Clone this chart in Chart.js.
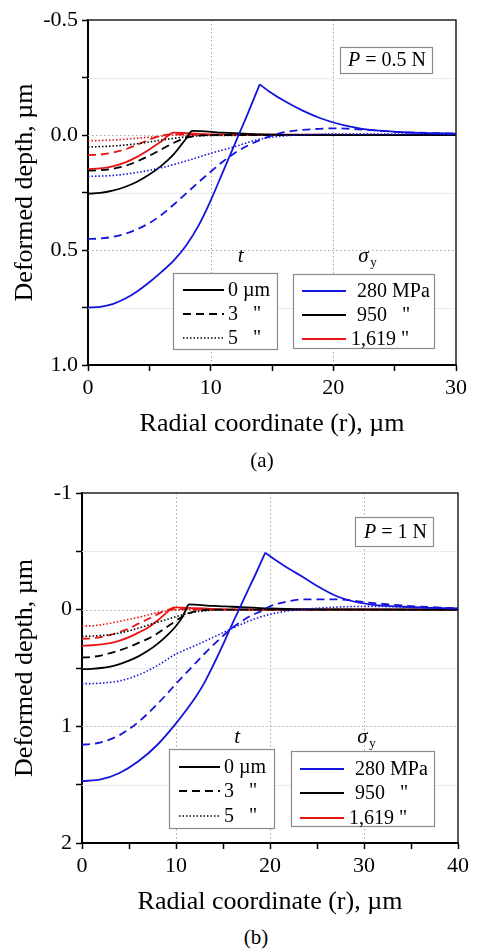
<!DOCTYPE html>
<html>
<head>
<meta charset="utf-8">
<script src="https://cdn.jsdelivr.net/npm/chart.js@4.4.0/dist/chart.umd.min.js"></script>
<style>
body { margin: 0; background: #fff; }
#wrap { position: relative; width: 490px; height: 952px; font-family: "Liberation Serif", "DejaVu Serif", serif; }
canvas { position: absolute; left: 0; }
.cap { position: absolute; font-size: 21px; width: 60px; text-align: center; }
</style>
</head>
<body>
<div id="wrap">
  <canvas id="chartA" width="490" height="440" style="top:0"></canvas>
  <canvas id="chartB" width="490" height="448" style="top:470px"></canvas>
  <div class="cap" style="left:232px;top:448px">(a)</div>
  <div class="cap" style="left:226px;top:925px">(b)</div>
</div>
<script>
// legend texts
const thicknessLabels = ['0 µm', '3   "', '5   "'];
const strengthLabels = ['280 MPa', '950   "', '1,619 "'];

// (a) P = 0.5 N  -- r in µm, deformed depth in µm
const aBlue0R = [0, 1, 2, 3, 4, 5, 6, 7, 8, 9, 10, 11, 12, 13, 14, 14.8, 16.2, 17.5, 18.9, 20.3, 21.6, 23, 25.7, 28, 30];
const aBlue0D = [0.75, 0.747, 0.735, 0.712, 0.68, 0.64, 0.595, 0.545, 0.48, 0.395, 0.285, 0.16, 0.035, -0.09, -0.22, -0.188, -0.142, -0.106, -0.074, -0.05, -0.034, -0.022, -0.012, -0.008, -0.006];
const aBlue3R = [0, 1, 2, 3, 4, 5, 6, 7, 8, 9, 10, 11, 12, 13, 14, 15, 16, 17.5, 20.3, 22, 25, 30];
const aBlue3D = [0.452, 0.45, 0.443, 0.43, 0.41, 0.383, 0.347, 0.302, 0.254, 0.206, 0.16, 0.115, 0.077, 0.047, 0.022, 0.003, -0.012, -0.022, -0.029, -0.025, -0.014, -0.005];
const aBlue5R = [0, 2, 4, 6, 8, 10, 12, 14, 16, 18, 20, 24, 30];
const aBlue5D = [0.18, 0.176, 0.163, 0.142, 0.113, 0.08, 0.05, 0.018, 0.004, -0.002, -0.004, -0.004, -0.002];
const aBlack0R = [0, 1, 2, 3, 4, 5, 6, 7, 7.5, 8, 8.5, 9.5, 11, 13, 15, 20, 30];
const aBlack0D = [0.255, 0.252, 0.242, 0.226, 0.203, 0.172, 0.133, 0.083, 0.05, 0.015, -0.018, -0.016, -0.01, -0.005, -0.002, 0, 0];
const aBlack3R = [0, 1, 2, 3, 4, 5, 6, 7, 8, 9, 10, 30];
const aBlack3D = [0.155, 0.153, 0.147, 0.135, 0.115, 0.09, 0.062, 0.034, 0.012, 0.003, 0, 0];
const aBlack5R = [0, 2, 4, 6, 8, 10, 30];
const aBlack5D = [0.052, 0.048, 0.038, 0.022, 0.008, 0.002, 0];
const aRed0R = [0, 1, 2, 3, 4, 5, 6, 7, 8, 10, 30];
const aRed0D = [0.148, 0.145, 0.136, 0.12, 0.095, 0.063, 0.027, -0.01, -0.008, -0.003, 0];
const aRed3R = [0, 1, 2, 3, 4, 5, 6, 7, 9, 30];
const aRed3D = [0.087, 0.085, 0.077, 0.063, 0.043, 0.02, 0.003, -0.003, -0.001, 0];
const aRed5R = [0, 2, 4, 6, 7, 30];
const aRed5D = [0.025, 0.022, 0.014, 0.005, 0, 0];

// (b) P = 1 N
const bBlue0R = [0, 2, 4, 6, 8, 10, 12, 13, 14, 15, 16, 16.7, 17.5, 18.5, 19.5, 20.5, 21.8, 23.5, 25.3, 27.1, 28.9, 30.6, 32, 34.2, 37, 40];
const bBlue0D = [1.47, 1.455, 1.40, 1.30, 1.16, 0.975, 0.76, 0.63, 0.47, 0.30, 0.12, 0, -0.14, -0.31, -0.488, -0.43, -0.362, -0.28, -0.19, -0.115, -0.07, -0.046, -0.035, -0.025, -0.016, -0.01];
const bBlue3R = [0, 1, 2, 3, 4, 5, 6, 7, 8, 9, 10, 11, 12, 13, 14, 15, 16, 17, 18, 19, 20, 21.8, 23.5, 27.1, 30.6, 34.2, 37, 40];
const bBlue3D = [1.157, 1.152, 1.138, 1.112, 1.075, 1.025, 0.963, 0.89, 0.81, 0.725, 0.635, 0.55, 0.465, 0.38, 0.3, 0.225, 0.155, 0.1, 0.05, 0.015, -0.028, -0.07, -0.088, -0.088, -0.06, -0.035, -0.022, -0.012];
const bBlue5R = [0, 2, 4, 6, 8, 10, 12, 14, 16, 18, 20, 22, 25, 28, 31, 35, 40];
const bBlue5D = [0.635, 0.63, 0.61, 0.56, 0.48, 0.38, 0.31, 0.235, 0.16, 0.09, 0.04, 0.01, -0.012, -0.025, -0.028, -0.02, -0.01];
const bBlack0R = [0, 1, 2, 3, 4, 5, 6, 7, 8, 9, 10, 10.7, 11.4, 12, 14, 16, 20, 25, 40];
const bBlack0D = [0.51, 0.507, 0.5, 0.488, 0.466, 0.437, 0.4, 0.353, 0.295, 0.225, 0.14, 0.06, -0.045, -0.043, -0.032, -0.025, -0.01, -0.002, 0];
const bBlack3R = [0, 1, 2, 3, 4, 5, 6, 7, 8, 9, 10, 11, 12, 13, 14, 40];
const bBlack3D = [0.41, 0.405, 0.393, 0.372, 0.348, 0.32, 0.285, 0.25, 0.205, 0.15, 0.095, 0.045, 0.015, 0.003, 0, 0];
const bBlack5R = [0, 2, 3, 4, 5, 6, 7, 8, 9, 10, 11, 12, 13, 15, 17, 40];
const bBlack5D = [0.23, 0.222, 0.215, 0.2, 0.182, 0.158, 0.133, 0.108, 0.085, 0.06, 0.037, 0.02, 0.01, 0.002, 0, 0];
const bRed0R = [0, 1, 2, 3, 4, 5, 6, 7, 8, 9, 9.5, 10, 12, 15, 18, 40];
const bRed0D = [0.31, 0.305, 0.298, 0.287, 0.265, 0.235, 0.197, 0.155, 0.095, 0.025, -0.01, -0.02, -0.012, -0.003, 0, 0];
const bRed3R = [0, 1, 2, 3, 4, 5, 6, 7, 8, 9, 10, 12, 15, 40];
const bRed3D = [0.25, 0.245, 0.235, 0.216, 0.19, 0.162, 0.12, 0.082, 0.04, 0.003, -0.006, -0.003, 0, 0];
const bRed5R = [0, 1, 2, 3, 4, 5, 6, 7, 8, 9, 10, 11, 40];
const bRed5D = [0.14, 0.138, 0.13, 0.116, 0.1, 0.083, 0.066, 0.045, 0.025, 0.011, 0.003, 0, 0];

const BLUE = '#1414dc';
const BLACK = '#000000';
const RED = '#e81414';
const SOLID = [];
const DASHED = [8, 5];
const DOTTED = [1.5, 2];
const SERIF = '"Liberation Serif", "DejaVu Serif", serif';

function curve(r, d, color, dash) {
  return {
    data: r.map((x, i) => ({ x: x, y: d[i] })),
    borderColor: color,
    borderDash: dash,
    borderWidth: dash === DOTTED ? 1.6 : 1.8,
    pointRadius: 0,
    fill: false,
    cubicInterpolationMode: 'monotone'
  };
}

// sharp peak: split the curve at its extreme point
function peakCurve(r, d, color, dash) {
  let k = 0;
  d.forEach((v, i) => { if (v < d[k]) k = i; });
  return [curve(r.slice(0, k + 1), d.slice(0, k + 1), color, dash),
          curve(r.slice(k), d.slice(k), color, dash)];
}

function near(v, step) { return Math.abs(v / step - Math.round(v / step)) < 1e-6; }

const decor = {
  id: 'decor',
  beforeDatasetsDraw(chart, args, o) {
    const { ctx, chartArea: a, scales: { x, y } } = chart;
    ctx.save();
    ctx.lineWidth = 1;
    ctx.strokeStyle = '#ececec';
    o.yMinor.forEach(v => {
      const py = Math.round(y.getPixelForValue(v)) + 0.5;
      ctx.beginPath(); ctx.moveTo(a.left, py); ctx.lineTo(a.right, py); ctx.stroke();
    });
    ctx.strokeStyle = '#a8a8a8';
    ctx.setLineDash([1.5, 2.5]);
    o.yMajor.forEach(v => {
      const py = Math.round(y.getPixelForValue(v)) + 0.5;
      ctx.beginPath(); ctx.moveTo(a.left, py); ctx.lineTo(a.right, py); ctx.stroke();
    });
    o.xMajor.forEach(v => {
      const px = Math.round(x.getPixelForValue(v)) + 0.5;
      ctx.beginPath(); ctx.moveTo(px, a.top); ctx.lineTo(px, a.bottom); ctx.stroke();
    });
    ctx.restore();
  },
  afterDatasetsDraw(chart, args, o) {
    const { ctx, chartArea: a } = chart;
    ctx.save();
    // frame
    ctx.strokeStyle = '#222';
    ctx.lineWidth = 1.5;
    ctx.beginPath();
    ctx.moveTo(a.left, a.top); ctx.lineTo(a.right, a.top); ctx.lineTo(a.right, a.bottom);
    ctx.stroke();

    // P box
    const p = o.pBox;
    ctx.fillStyle = '#fff';
    ctx.fillRect(p.x, p.y, p.w, p.h);
    ctx.strokeStyle = '#8a8a8a';
    ctx.lineWidth = 1.2;
    ctx.strokeRect(p.x + 0.5, p.y + 0.5, p.w, p.h);
    ctx.fillStyle = '#000';
    ctx.textBaseline = 'middle';
    ctx.font = 'italic 20px ' + SERIF;
    const tx = p.x + p.tx;
    ctx.fillText('P', tx, p.y + p.h / 2 + 1);
    const pw = ctx.measureText('P').width;
    ctx.font = '20px ' + SERIF;
    ctx.fillText(' = ' + o.pText, tx + pw, p.y + p.h / 2 + 1);

    // legend boxes
    const boxes = [
      { b: o.tBox, labels: thicknessLabels, colors: [BLACK, BLACK, BLACK], dashes: [SOLID, DASHED, DOTTED], lx0: 10, lx1: 51, tx: 55 },
      { b: o.sBox, labels: strengthLabels, colors: [BLUE, BLACK, RED], dashes: [SOLID, SOLID, SOLID], lx0: 9, lx1: 53, tx: 64 }
    ];
    boxes.forEach((bx, j) => {
      const b = bx.b;
      ctx.fillStyle = '#fff';
      ctx.fillRect(b.x, b.y, b.w, b.h);
      ctx.strokeStyle = '#8a8a8a';
      ctx.lineWidth = 1.2;
      ctx.setLineDash([]);
      ctx.strokeRect(b.x + 0.5, b.y + 0.5, b.w, b.h);
      bx.labels.forEach((lab, i) => {
        const ry = b.y + o.rows[i];
        ctx.strokeStyle = bx.colors[i];
        ctx.lineWidth = bx.dashes[i] === DOTTED ? 1.4 : 1.8;
        ctx.setLineDash(bx.dashes[i]);
        ctx.beginPath(); ctx.moveTo(b.x + bx.lx0, ry); ctx.lineTo(b.x + bx.lx1, ry); ctx.stroke();
        ctx.setLineDash([]);
        ctx.fillStyle = '#000';
        ctx.font = '20px ' + SERIF;
        ctx.textBaseline = 'middle';
        const shift = (j === 1 && i === 2) ? -6 : 0;
        ctx.fillText(lab, b.x + bx.tx + shift, ry + 1);
      });
    });
    // headers
    ctx.fillStyle = '#000';
    ctx.textBaseline = 'middle';
    ctx.textAlign = 'center';
    ctx.font = 'italic 21px ' + SERIF;
    ctx.fillText('t', o.tBox.x + o.tBox.w * 0.65, o.headY);
    const sx = o.sBox.x + o.sBox.w * 0.52;
    ctx.textAlign = 'left';
    ctx.fillText('σ', sx - 8, o.headY);
    ctx.font = '13px ' + SERIF;
    ctx.fillText('y', sx + 4, o.headY + 7);
    ctx.restore();
  }
};

function makeChart(id, sets, xMax, yMin, yMax, yStep, yFmt, layout, opts) {
  new Chart(document.getElementById(id), {
    type: 'line',
    data: { datasets: sets },
    options: {
      responsive: false,
      animation: false,
      devicePixelRatio: 1,
      layout: { padding: { top: layout.top, right: layout.right, left: 0, bottom: 0 } },
      plugins: { legend: { display: false }, tooltip: { enabled: false }, decor: opts },
      scales: {
        x: {
          type: 'linear', min: 0, max: xMax,
          afterFit: s => { s.height = layout.xh; },
          grid: { drawOnChartArea: false, tickLength: 6, tickColor: '#000', tickWidth: 1.5 },
          border: { color: '#000', width: 2 },
          ticks: {
            stepSize: 5, autoSkip: false, maxRotation: 0, padding: 4,
            color: '#000', font: { family: SERIF, size: 22 },
            callback: v => near(v, 10) ? String(v) : ''
          },
          title: { display: true, text: 'Radial coordinate (r), µm', color: '#000', font: { family: SERIF, size: 26 }, padding: { top: 14, bottom: 0 } }
        },
        y: {
          type: 'linear', min: yMin, max: yMax, reverse: true,
          afterFit: s => { s.width = layout.yw; },
          grid: { drawOnChartArea: false, tickLength: 6, tickColor: '#000', tickWidth: 1.5 },
          border: { color: '#000', width: 2 },
          ticks: {
            stepSize: yStep / 2, autoSkip: false, padding: 4,
            color: '#000', font: { family: SERIF, size: 22 },
            callback: v => near(v, yStep) ? yFmt(v) : ''
          },
          title: { display: true, text: 'Deformed depth, µm', color: '#000', font: { family: SERIF, size: 26 }, padding: { top: 10, bottom: 0 } }
        }
      }
    },
    plugins: [decor]
  });
}

const setsA = [
  ...peakCurve(aBlue0R, aBlue0D, BLUE, SOLID),
  curve(aBlue3R, aBlue3D, BLUE, DASHED),
  curve(aBlue5R, aBlue5D, BLUE, DOTTED),
  curve(aBlack0R, aBlack0D, BLACK, SOLID),
  curve(aBlack3R, aBlack3D, BLACK, DASHED),
  curve(aBlack5R, aBlack5D, BLACK, DOTTED),
  curve(aRed0R, aRed0D, RED, SOLID),
  curve(aRed3R, aRed3D, RED, DASHED),
  curve(aRed5R, aRed5D, RED, DOTTED)
];
const setsB = [
  ...peakCurve(bBlue0R, bBlue0D, BLUE, SOLID),
  curve(bBlue3R, bBlue3D, BLUE, DASHED),
  curve(bBlue5R, bBlue5D, BLUE, DOTTED),
  curve(bBlack0R, bBlack0D, BLACK, SOLID),
  curve(bBlack3R, bBlack3D, BLACK, DASHED),
  curve(bBlack5R, bBlack5D, BLACK, DOTTED),
  curve(bRed0R, bRed0D, RED, SOLID),
  curve(bRed3R, bRed3D, RED, DASHED),
  curve(bRed5R, bRed5D, RED, DOTTED)
];

makeChart('chartA', setsA, 30, -0.5, 1.0, 0.5, v => v.toFixed(1),
  { top: 20, right: 34, xh: 75, yw: 88 },
  { xMajor: [10, 20], yMajor: [0, 0.5], yMinor: [-0.25, 0.25, 0.75],
    pBox: { x: 340, y: 47, w: 92, h: 26, tx: 8 }, pText: '0.5 N',
    tBox: { x: 173, y: 273, w: 104, h: 76 }, sBox: { x: 293, y: 274, w: 141, h: 74 },
    rows: [17, 41, 65], headY: 256 });

makeChart('chartB', setsB, 40, -1, 2, 1, v => String(Math.round(v)),
  { top: 23, right: 32, xh: 75, yw: 82 },
  { xMajor: [10, 20, 30], yMajor: [0, 1], yMinor: [-0.5, 0.5, 1.5],
    pBox: { x: 355, y: 47, w: 78, h: 29, tx: 9 }, pText: '1 N',
    tBox: { x: 169, y: 279, w: 105, h: 79 }, sBox: { x: 291, y: 281, w: 143, h: 75 },
    rows: [18, 42, 67], headY: 267 });
</script>
</body>
</html>
